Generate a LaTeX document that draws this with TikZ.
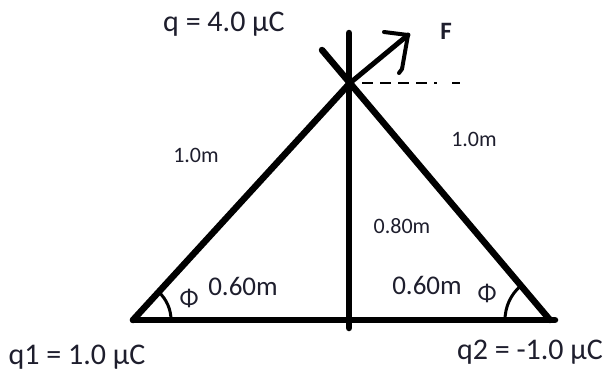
\documentclass[tikz,border=0pt]{standalone}
\usepackage{fontspec}
\setmainfont{Carlito}
\usepackage{xcolor}
\usepackage{tikz}
\usetikzlibrary{arrows.meta}
\definecolor{ink}{RGB}{30,30,45}

\begin{document}
\begin{tikzpicture}[x=1pt, y=-1pt,
  rod/.style={line width=6.5pt, line cap=round},
  thin rod/.style={line width=4pt, line cap=round, line join=round},
  charge/.style={font=\fontsize{30}{32}\selectfont, text=ink, inner sep=0pt},
  dim/.style={font=\fontsize{22}{24}\selectfont, text=ink, inner sep=0pt},
  guide/.style={line width=1.6pt, dash pattern=on 11pt off 7pt on 11pt off 7pt on 11pt off 7pt on 11pt off 7pt on 3pt off 15pt on 8pt off 20pt},
]
\useasboundingbox (0,0) rectangle (611,373);

% Corners
\coordinate (q) at (350,83);
\coordinate (q1) at (133,320);
\coordinate (q2) at (550,320);
\coordinate (base end) at (555,320);
\coordinate (top) at (349,33);
\coordinate (foot) at (349,328);
\coordinate (over) at (322,50);

% Force
\coordinate (ftip) at (408,35);
\coordinate (fwing1) at (384,32);
\coordinate (fwing2) at (402,69);
\coordinate (fcurl) at (399,73);
\coordinate (dash start) at (362,83);
\coordinate (dash end) at (470,83);

% Labels
\node[charge] (qlbl) at (224,24) {q = 4.0 μC};
\node[charge] (q1lbl) at (77,357) {q1 = 1.0 μC};
\node[charge] (q2lbl) at (530,352) {q2 = -1.0 μC};
\node[dim, font=\fontsize{25}{26}\selectfont\bfseries] (flbl) at (446,31) {F};
\node[dim] (side1) at (196,155) {1.0m};
\node[dim] (side2) at (474,139) {1.0m};
\node[dim] (height) at (402,226) {0.80m};
\node[charge, font=\fontsize{27}{28}\selectfont] (half1) at (243,286) {0.60m};
\node[charge, font=\fontsize{27}{28}\selectfont] (half2) at (427,285) {0.60m};
\node[charge, font=\fontsize{25}{26}\selectfont] (phi1) at (189,298) {Φ};
\node[charge, font=\fontsize{25}{26}\selectfont] (phi2) at (487,293) {Φ};

% Triangle
\draw[rod] (q1) -- (base end);
\draw[rod] (top) -- (foot);
\draw[rod] (q1) -- (q);
\draw[rod] (over) -- (q2);

% Angles
\draw[line width=3pt] (q1) ++(38,0) arc[start angle=0, end angle=-47.5, radius=38];
\draw[line width=3pt] (q2) ++(-45,0) arc[start angle=180, end angle=229.8, radius=45];

% Force arrow
\draw[thin rod, line width=5pt] (q) -- (ftip);
\draw[thin rod] (fwing1) -- (ftip) -- (fwing2) -- (fcurl);
\draw[guide] (dash start) -- (dash end);
\end{tikzpicture}
\end{document}
